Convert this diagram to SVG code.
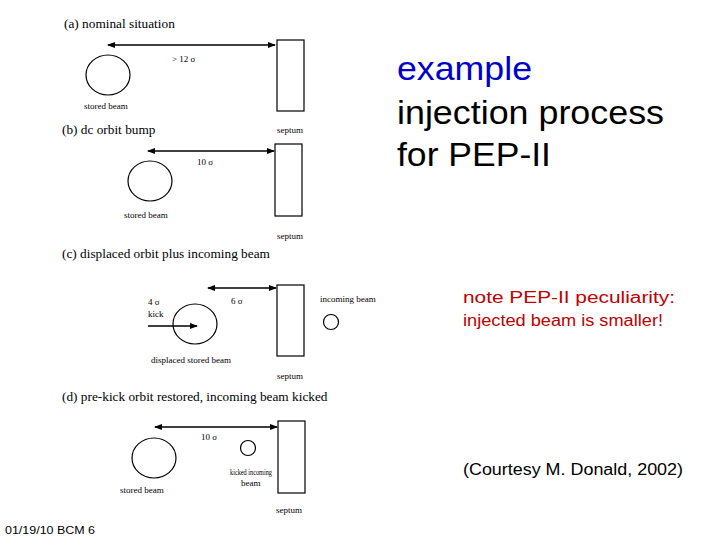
<svg xmlns="http://www.w3.org/2000/svg" width="720" height="540" viewBox="0 0 720 540">
<style>
.t{font-family:"Liberation Serif",serif;fill:#000}
.h{font-size:13.3px}
.s{font-size:9px}
.ln{stroke:#000;stroke-width:1.3;fill:none}
.bm{stroke:#000;stroke-width:1.2;fill:#fff}
</style>
<defs>
<marker id="ah" markerWidth="8" markerHeight="6" refX="7" refY="3" orient="auto-start-reverse" markerUnits="userSpaceOnUse"><path d="M0,0 L8,3 L0,6 Z" fill="#000"/></marker>
</defs>
<rect width="720" height="540" fill="#fff"/>
<g id="panel-a">
<text class="t h" x="64" y="28">(a) nominal situation</text>
<rect class="bm" x="277" y="40" width="27" height="71"/>
<ellipse class="bm" cx="108" cy="75" rx="22" ry="20"/>
<text class="t s" x="172" y="62">&gt; 12 σ</text>
<text class="t s" x="84" y="109">stored beam</text>
<text class="t s" x="277" y="133">septum</text>
</g>
<g id="panel-b">
<text class="t h" x="62" y="134">(b) dc orbit bump</text>
<rect class="bm" x="275" y="144" width="27" height="72"/>
<ellipse class="bm" cx="150" cy="181" rx="22" ry="20"/>
<text class="t s" x="197" y="165">10 σ</text>
<text class="t s" x="124" y="218">stored beam</text>
<text class="t s" x="277" y="239">septum</text>
</g>
<g id="panel-c">
<text class="t h" x="62" y="258">(c) displaced orbit plus incoming beam</text>
<rect class="bm" x="277" y="285" width="27" height="71"/>
<ellipse class="bm" cx="195" cy="324" rx="22" ry="20"/>
<circle class="bm" cx="331" cy="322" r="7.5"/>
<text class="t s" x="231" y="304">6 σ</text>
<text class="t s" x="148" y="305">4 σ</text>
<text class="t s" x="148" y="317">kick</text>
<text class="t s" x="151" y="363">displaced stored beam</text>
<text class="t s" x="320" y="302">incoming beam</text>
<text class="t s" x="277" y="379">septum</text>
</g>
<g id="panel-d">
<text class="t h" x="62" y="401">(d) pre-kick orbit restored, incoming beam kicked</text>
<rect class="bm" x="278" y="421" width="27" height="72"/>
<ellipse class="bm" cx="154" cy="458" rx="22" ry="20"/>
<circle class="bm" cx="248" cy="448" r="7.5"/>
<text class="t s" x="201" y="440">10 σ</text>
<text class="t s" x="230" y="475" textLength="42" lengthAdjust="spacingAndGlyphs">kicked incoming</text>
<text class="t s" x="241" y="486">beam</text>
<text class="t s" x="120" y="493">stored beam</text>
<text class="t s" x="276" y="513">septum</text>
</g>
<g id="connectors">
<line class="ln" x1="108" y1="45" x2="275" y2="45" marker-start="url(#ah)" marker-end="url(#ah)"/>
<line class="ln" x1="148" y1="151" x2="274" y2="151" marker-start="url(#ah)" marker-end="url(#ah)"/>
<line class="ln" x1="208" y1="288" x2="276" y2="288" marker-start="url(#ah)" marker-end="url(#ah)"/>
<line class="ln" x1="148" y1="326" x2="197" y2="326" marker-end="url(#ah)"/>
<line class="ln" x1="155" y1="427" x2="277" y2="427" marker-start="url(#ah)" marker-end="url(#ah)"/>
</g>
<g id="title" font-family="Liberation Sans, Arial, sans-serif" font-size="33">
<text x="397" y="80" fill="#0000cc" textLength="135" lengthAdjust="spacingAndGlyphs">example</text>
<text x="397" y="124" fill="#000" textLength="267" lengthAdjust="spacingAndGlyphs">injection process</text>
<text x="397" y="166" fill="#000" textLength="154" lengthAdjust="spacingAndGlyphs">for PEP-II</text>
</g>
<g id="note" font-family="Liberation Sans, Arial, sans-serif" font-size="16" fill="#c00000">
<text x="463" y="303" textLength="212" lengthAdjust="spacingAndGlyphs">note PEP-II peculiarity:</text>
<text x="463" y="326" textLength="200" lengthAdjust="spacingAndGlyphs">injected beam is smaller!</text>
</g>
<text x="463" y="475" font-family="Liberation Sans, Arial, sans-serif" font-size="16" fill="#000" textLength="220" lengthAdjust="spacingAndGlyphs">(Courtesy M. Donald, 2002)</text>
<text x="5" y="534" font-family="Liberation Sans, Arial, sans-serif" font-size="10" fill="#000" textLength="90" lengthAdjust="spacingAndGlyphs">01/19/10 BCM 6</text>
</svg>
